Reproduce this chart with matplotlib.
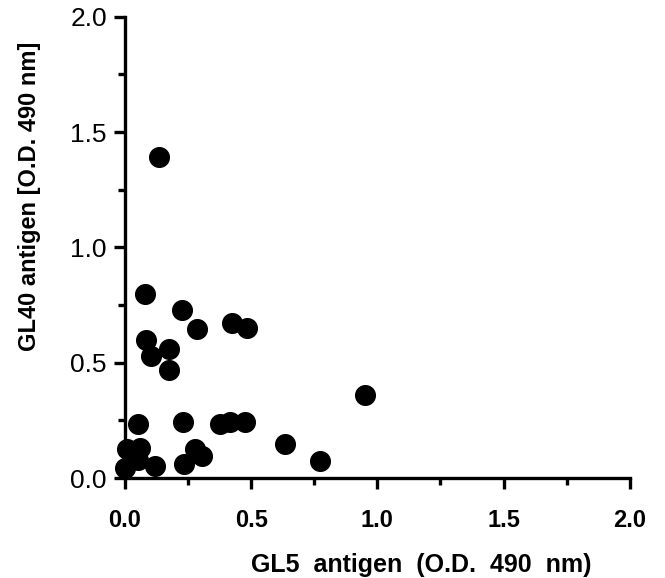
import matplotlib.pyplot as plt
from matplotlib.ticker import MultipleLocator

plt.rcParams['font.family'] = ['Liberation Sans', 'DejaVu Sans']

# GL5 vs GL40 antigen readings (O.D. 490 nm)
gl5 = [0.135, 0.08, 0.225, 0.284, 0.423, 0.483, 0.083, 0.102, 0.175, 0.175,
       0.952, 0.053, 0.06, 0.007, 0.0, 0.12, 0.05, 0.231, 0.278, 0.234,
       0.304, 0.377, 0.417, 0.476, 0.635, 0.774]
gl40 = [1.39, 0.80, 0.73, 0.646, 0.671, 0.649, 0.60, 0.527, 0.56, 0.47,
        0.36, 0.233, 0.13, 0.125, 0.045, 0.052, 0.08, 0.245, 0.125, 0.06,
        0.096, 0.236, 0.245, 0.245, 0.149, 0.074]
ticks = [0.0, 0.5, 1.0, 1.5, 2.0]
tick_labels = ["0.0", "0.5", "1.0", "1.5", "2.0"]

fig = plt.figure(figsize=(6.65, 5.78), dpi=100)
ax = fig.add_axes([0.188, 0.173, 0.759, 0.798])

ax.scatter(gl5, gl40, s=200, color='black', edgecolors='black', zorder=3, clip_on=False)

ax.set_xlim(0, 2.0)
ax.set_ylim(0, 2.0)
ax.set_xticks(ticks)
ax.set_xticklabels(tick_labels, fontweight='bold', fontsize=17)
ax.set_yticks(ticks)
ax.set_yticklabels(tick_labels, fontsize=19)
ax.xaxis.set_minor_locator(MultipleLocator(0.25))
ax.yaxis.set_minor_locator(MultipleLocator(0.25))

for side in ['top', 'right']:
    ax.spines[side].set_visible(False)
for side in ['left', 'bottom']:
    ax.spines[side].set_linewidth(2.4)

ax.tick_params(axis='both', which='major', direction='out', length=8, width=2.4)
ax.tick_params(axis='both', which='minor', direction='out', length=5, width=2.4)
ax.tick_params(axis='x', pad=14)
ax.tick_params(axis='y', pad=5)

ax.set_xlabel("GL5  antigen  (O.D.  490  nm)", fontsize=18, fontweight='bold')
ax.set_ylabel("GL40 antigen [O.D. 490 nm]", fontsize=17, fontweight='bold')
ax.xaxis.set_label_coords(0.586, -0.163)
ax.yaxis.set_label_coords(-0.166, 0.61)

fig.savefig("out.png", dpi=100)
